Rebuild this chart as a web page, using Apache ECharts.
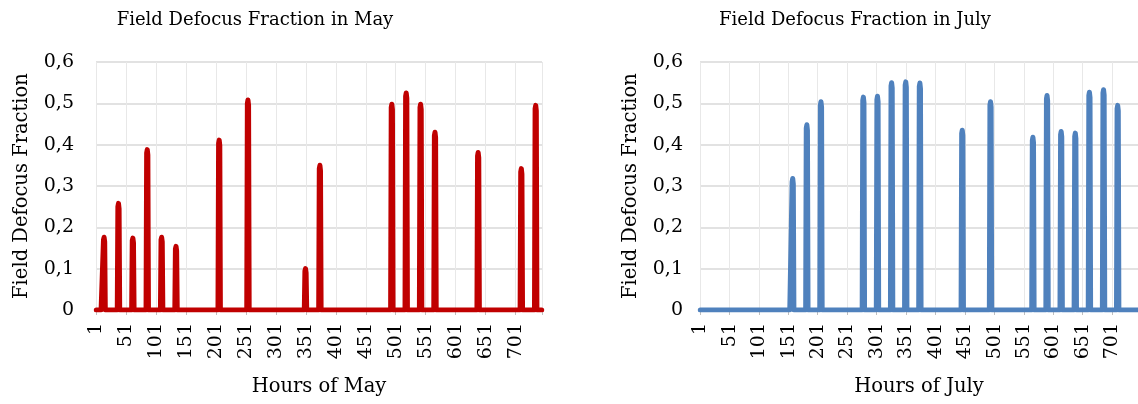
<!DOCTYPE html>
<html>
<head>
<meta charset="utf-8">
<script src="https://cdn.jsdelivr.net/npm/echarts@6/dist/echarts.min.js"></script>
<style>
html,body{margin:0;padding:0;background:#fff;}
#chart{width:1138px;height:404px;}
</style>
</head>
<body>
<div id="chart"></div>
<script>
// Category labels: hours 1..744
const hourCount = 744;
const hours = [];
for (let i = 1; i <= hourCount; i++) hours.push(String(i));

// Non-zero hours (all other hours are 0)
const mayHours = [13,14,15, 37,38,39, 61,62,63, 85,86,87, 109,110,111, 133,134,135,
  205,206,207, 253,254,255, 349,350,351, 373,374,375, 493,494,495, 517,518,519,
  541,542,543, 565,566,567, 637,638,639, 709,710,711, 733,734,735];
const mayValues = [0.17,0.176,0.165, 0.25,0.258,0.245, 0.168,0.174,0.163, 0.38,0.388,0.375,
  0.17,0.176,0.165, 0.148,0.154,0.143, 0.403,0.411,0.398, 0.5,0.508,0.495, 0.094,0.1,0.09,
  0.342,0.35,0.337, 0.49,0.498,0.485, 0.517,0.525,0.512, 0.49,0.498,0.485, 0.422,0.43,0.417,
  0.373,0.381,0.368, 0.334,0.342,0.329, 0.487,0.495,0.482];

const julyHours = [157,158,159, 181,182,183, 205,206,207, 277,278,279, 301,302,303,
  325,326,327, 349,350,351, 373,374,375, 445,446,447, 493,494,495, 565,566,567,
  589,590,591, 613,614,615, 637,638,639, 661,662,663, 685,686,687, 709,710,711];
const julyValues = [0.31,0.318,0.305, 0.44,0.448,0.435, 0.496,0.504,0.491, 0.507,0.515,0.502,
  0.509,0.517,0.504, 0.542,0.55,0.537, 0.544,0.552,0.539, 0.541,0.549,0.536, 0.427,0.435,0.422,
  0.496,0.504,0.491, 0.41,0.418,0.405, 0.511,0.519,0.506, 0.424,0.432,0.419, 0.42,0.428,0.415,
  0.519,0.527,0.514, 0.525,0.533,0.52, 0.487,0.495,0.482];

const yTicks = [0, 0.1, 0.2, 0.3, 0.4, 0.5, 0.6];

function buildSeries(hs, vs) {
  const arr = new Array(hourCount).fill(0);
  hs.forEach((h, i) => { arr[h - 1] = vs[i]; });
  return arr;
}
const mayData = buildSeries(mayHours, mayValues);
const julyData = buildSeries(julyHours, julyValues);

const FONT = 'DejaVu Serif';
function xAxisCfg(gridIndex, name) {
  return {
    type: 'category', gridIndex, data: hours, boundaryGap: true,
    name, nameLocation: 'middle', nameGap: 67,
    nameTextStyle: {fontFamily: FONT, fontSize: 19.5, color: '#000'},
    axisLine: {show: true, lineStyle: {color: '#d9d9d9', width: 1}},
    axisTick: {show: true, interval: 49, length: 5, lineStyle: {color: '#bfbfbf'}},
    axisLabel: {interval: 49, rotate: 90, margin: 13, padding: [6, 0, 0, 0],
      fontFamily: FONT, fontSize: 19, color: '#000'},
    splitLine: {show: true, interval: 49, lineStyle: {color: '#e8e8e8', width: 1}}
  };
}
function yAxisCfg(gridIndex, gap, margin) {
  return {
    type: 'value', gridIndex, min: 0, max: 0.6, interval: 0.1,
    name: 'Field Defocus Fraction', nameLocation: 'middle', nameGap: gap,
    nameTextStyle: {fontFamily: FONT, fontSize: 19.5, color: '#000'},
    axisLine: {show: false}, axisTick: {show: false},
    axisLabel: {margin, fontFamily: FONT, fontSize: 19, color: '#000',
      formatter: v => String(Math.round(v * 10) / 10).replace('.', ',')},
    splitLine: {show: true, lineStyle: {color: '#d9d9d9', width: 1.5}}
  };
}

const chart = echarts.init(document.getElementById('chart'), null, {renderer: 'canvas'});
chart.setOption({
  animation: false,
  backgroundColor: '#ffffff',
  title: [
    {text: 'Field Defocus Fraction in May', left: 250, top: 6, textAlign: 'center',
      textStyle: {fontFamily: FONT, fontSize: 18, fontWeight: 'normal', color: '#000'}},
    {text: 'Field Defocus Fraction in July', left: 850, top: 6, textAlign: 'center',
      textStyle: {fontFamily: FONT, fontSize: 18, fontWeight: 'normal', color: '#000'}}
  ],
  grid: [
    {left: 96, top: 62, width: 446, height: 248},
    {left: 700, top: 62, width: 441, height: 248}
  ],
  xAxis: [xAxisCfg(0, 'Hours of May'), xAxisCfg(1, 'Hours of July')],
  yAxis: [yAxisCfg(0, 64, 22), yAxisCfg(1, 59, 17)],
  series: [
    {type: 'line', xAxisIndex: 0, yAxisIndex: 0, data: mayData, showSymbol: false,
      lineStyle: {color: '#c00000', width: 5, join: 'round', cap: 'round'}},
    {type: 'line', xAxisIndex: 1, yAxisIndex: 1, data: julyData, showSymbol: false,
      lineStyle: {color: '#4f81bd', width: 5, join: 'round', cap: 'round'}}
  ]
});
</script>
</body>
</html>
